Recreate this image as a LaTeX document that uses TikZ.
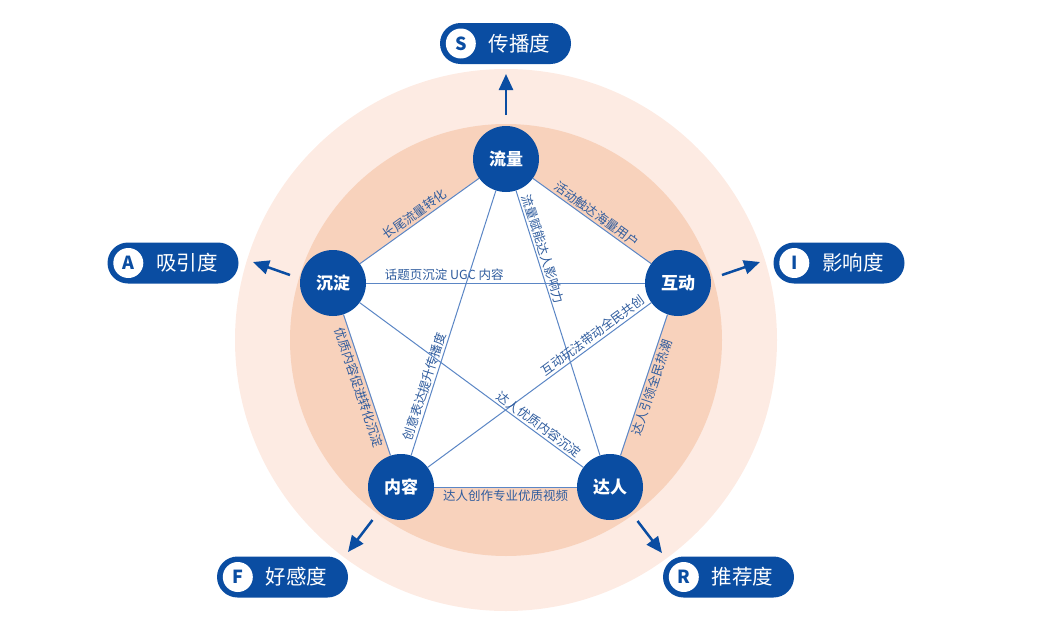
\documentclass[tikz,border=0pt]{standalone}
\usepackage{fontspec}
\setmainfont{Noto Sans CJK SC}
\usetikzlibrary{arrows.meta}
\definecolor{navy}{HTML}{0A4DA2}
\definecolor{ringout}{HTML}{FDEBE3}
\definecolor{ringin}{HTML}{F8D2BC}
\definecolor{edgeblue}{HTML}{5B86C5}
\definecolor{tagblue}{HTML}{2F5C9E}

\begin{document}
\begin{tikzpicture}[x=1pt,y=1pt,
  hub/.style={circle,fill=navy,minimum size=66pt,inner sep=0pt,text=white,
    font=\fontsize{17}{17}\selectfont\bfseries},
  link/.style={edgeblue,line width=1pt},
  tag/.style={text=tagblue,font=\fontsize{12.5}{13}\selectfont,inner sep=2pt},
  badge/.style={fill=navy,rounded corners=20.5pt,minimum width=131pt,minimum height=41pt},
  letter/.style={circle,fill=white,minimum size=30pt,inner sep=0pt,text=navy,
    font=\fontsize{18}{18}\selectfont\bfseries},
  badgetext/.style={text=white,inner sep=0pt,font=\fontsize{20.5}{21}\selectfont},
  flow/.style={navy,line width=2.5pt,-{Triangle[length=16pt,width=14pt]}}]
  \useasboundingbox (0,0) rectangle (1061,-637);

  % rings
  \fill[ringout] (506,-340) circle (271);
  \fill[ringin] (506,-340) circle (216);
  \fill[white] (506,-159) -- (678,-283) -- (610,-487) -- (401,-487) -- (333,-283) -- cycle;

  % hubs
  \node[hub] (flow) at (506,-159) {流量};
  \node[hub] (settle) at (333,-283) {沉淀};
  \node[hub] (interact) at (678,-283) {互动};
  \node[hub] (content) at (401,-487) {内容};
  \node[hub] (talent) at (610,-487) {达人};

  % sides
  \draw[link] (flow) -- node[tag,midway,sloped,above] (t1) {长尾流量转化} (settle);
  \draw[link] (flow) -- node[tag,midway,sloped,above] (t2) {活动触达海量用户} (interact);
  \draw[link] (settle) -- node[tag,midway,sloped,below] (t3) {优质内容促进转化沉淀} (content);
  \draw[link] (talent) -- node[tag,midway,sloped,below] (t4) {达人引领全民热潮} (interact);
  \draw[link] (content) -- node[tag,midway,below] (t5) {达人创作专业优质视频} (talent);

  % diagonals
  \draw[link] (settle) -- node[tag,pos=0.28,above] (t6) {话题页沉淀 UGC 内容} (interact);
  \draw[link] (flow) -- node[tag,pos=0.23,sloped,above] (t7) {流量赋能达人影响力} (talent);
  \draw[link] (content) -- node[tag,pos=0.25,sloped,above] (t8) {创意表达提升传播度} (flow);
  \draw[link] (content) -- node[tag,pos=0.76,sloped,above] (t9) {互动玩法带动全民共创} (interact);
  \draw[link] (settle) -- node[tag,pos=0.78,sloped,above] (t10) {达人优质内容沉淀} (talent);

  % badges
  \node[badge] (S) at (505.5,-43.5) {};
  \node[letter] (Sl) at ([xshift=21pt]S.west) {S};
  \node[badgetext,anchor=east] (St) at ([xshift=-21pt]S.east) {传播度};
  \node[badge] (A) at (173,-263) {};
  \node[letter] (Al) at ([xshift=21pt]A.west) {A};
  \node[badgetext,anchor=east] (At) at ([xshift=-21pt]A.east) {吸引度};
  \node[badge] (I) at (839,-263) {};
  \node[letter] (Il) at ([xshift=21pt]I.west) {I};
  \node[badgetext,anchor=east] (It) at ([xshift=-21pt]I.east) {影响度};
  \node[badge] (F) at (282.5,-577) {};
  \node[letter] (Fl) at ([xshift=21pt]F.west) {F};
  \node[badgetext,anchor=east] (Ft) at ([xshift=-21pt]F.east) {好感度};
  \node[badge] (R) at (728.5,-577) {};
  \node[letter] (Rl) at ([xshift=21pt]R.west) {R};
  \node[badgetext,anchor=east] (Rt) at ([xshift=-21pt]R.east) {推荐度};

  % arrows out of the ring
  \coordinate (s0) at (506,-115);   \coordinate (s1) at (506,-74);
  \coordinate (a0) at (290,-275);   \coordinate (a1) at (253,-262);
  \coordinate (i0) at (722,-275);   \coordinate (i1) at (760,-262);
  \coordinate (f0) at (372.5,-520); \coordinate (f1) at (348,-552);
  \coordinate (r0) at (637.5,-521); \coordinate (r1) at (662,-553);
  \draw[flow] (s0) -- (s1);
  \draw[flow] (a0) -- (a1);
  \draw[flow] (i0) -- (i1);
  \draw[flow] (f0) -- (f1);
  \draw[flow] (r0) -- (r1);
\end{tikzpicture}
\end{document}
